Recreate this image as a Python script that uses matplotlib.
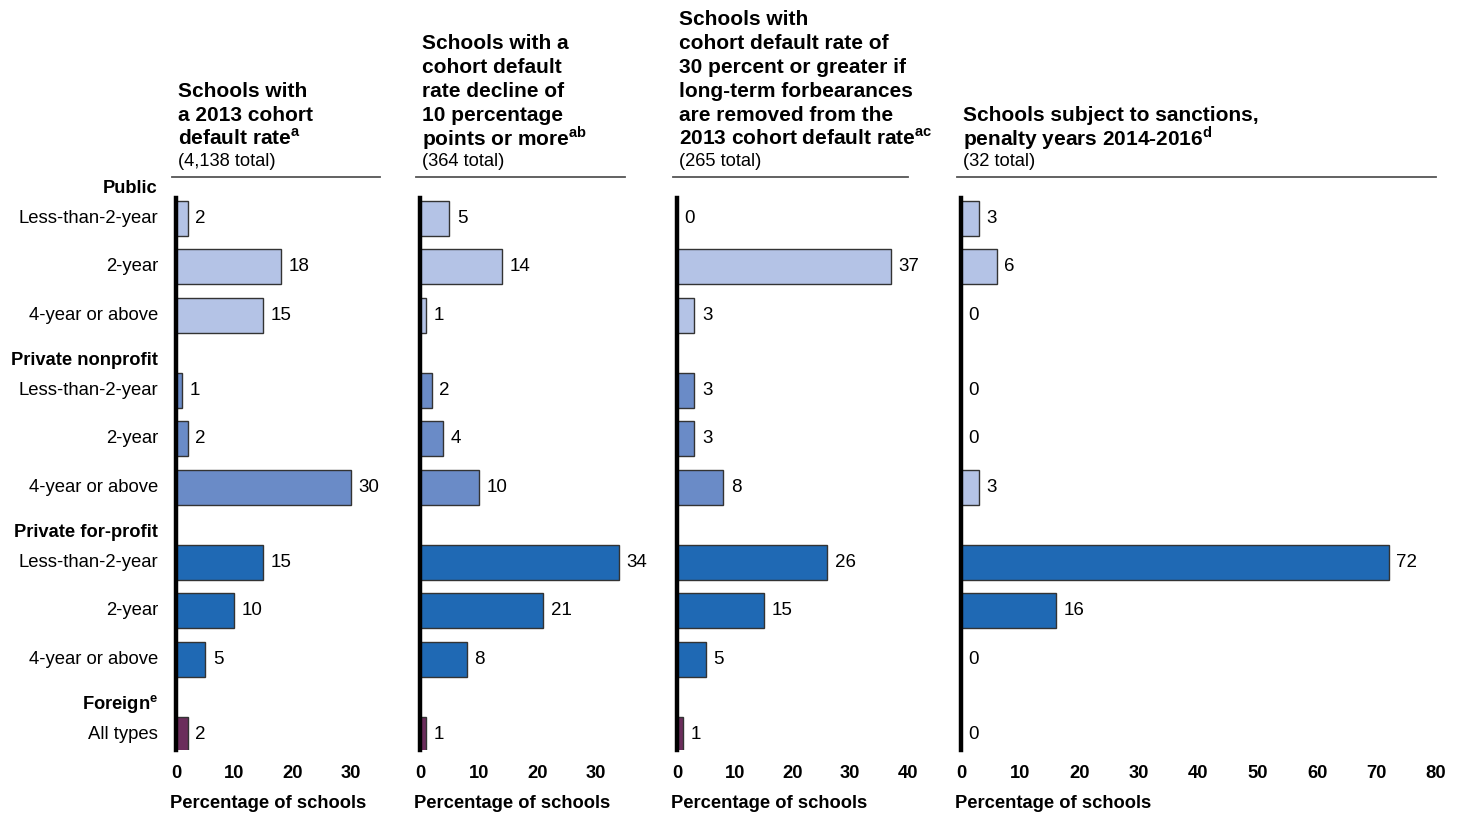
import matplotlib
matplotlib.use('Agg')
import matplotlib.pyplot as plt
from matplotlib.lines import Line2D

plt.rcParams['font.family'] = ['Liberation Sans', 'DejaVu Sans']
plt.rcParams['mathtext.fontset'] = 'custom'
plt.rcParams['mathtext.rm'] = 'Liberation Sans'
plt.rcParams['mathtext.bf'] = 'Liberation Sans:bold'

# data
groups = ['Public', 'Private nonprofit', 'Private for-profit', r'Foreign$^{\mathregular{e}}$']
rows = [['Less-than-2-year', '2-year', '4-year or above'],
        ['Less-than-2-year', '2-year', '4-year or above'],
        ['Less-than-2-year', '2-year', '4-year or above'],
        ['All types']]

cdr_2013 = [2, 18, 15, 1, 2, 30, 15, 10, 5, 2]
cdr_decline = [5, 14, 1, 2, 4, 10, 34, 21, 8, 1]
cdr_no_forb = [0, 37, 3, 3, 3, 8, 26, 15, 5, 1]
sanctions = [3, 6, 0, 0, 0, 3, 72, 16, 0, 0]

titles = [
    ['Schools with', 'a 2013 cohort', r'default rate$^{\mathbf{a}}$'],
    ['Schools with a', 'cohort default', 'rate decline of', '10 percentage',
     r'points or more$^{\mathbf{ab}}$'],
    ['Schools with', 'cohort default rate of', '30 percent or greater if',
     'long-term forbearances', 'are removed from the',
     r'2013 cohort default rate$^{\mathbf{ac}}$'],
    ['Schools subject to sanctions,', r'penalty years 2014-2016$^{\mathbf{d}}$'],
]
totals = ['(4,138 total)', '(364 total)', '(265 total)', '(32 total)']
xmax = [35, 35, 40, 80]
xticks = [[0, 10, 20, 30], [0, 10, 20, 30], [0, 10, 20, 30, 40],
          [0, 10, 20, 30, 40, 50, 60, 70, 80]]

c_public = '#b4c3e6'
c_nonprofit = '#6a8bc7'
c_forprofit = '#1f69b4'
c_foreign = '#6b2d5c'
group_colors = [c_public, c_nonprofit, c_forprofit, c_foreign]

# row positions
pos, colors, header_pos = [], [], []
p = 0
for g, r in enumerate(rows):
    header_pos.append(p - 0.62)
    for _ in r:
        pos.append(p)
        colors.append(group_colors[g])
        p += 1
    p += 0.55

# odd colour in the sanctions panel (as in the source)
colors4 = list(colors)
colors4[5] = c_public

W, H = 1463, 814
fig = plt.figure(figsize=(W / 100, H / 100), dpi=100)

lefts = [176, 420, 677, 961]
rights = [380, 625, 908, 1436]
top_px, bot_px = 198, 750

series = [cdr_2013, cdr_decline, cdr_no_forb, sanctions]

for i in range(4):
    ax = fig.add_axes([lefts[i] / W, 1 - bot_px / H, (rights[i] - lefts[i]) / W,
                       (bot_px - top_px) / H])
    cols = colors4 if i == 3 else colors
    ax.barh(pos, series[i], height=0.72, color=cols, edgecolor='#333333',
            linewidth=1.0, zorder=2)
    for y, v in zip(pos, series[i]):
        ax.annotate(str(v), (v, y), xytext=(5.5, 0), textcoords='offset points',
                    va='center', ha='left', fontsize=13.5)
    ax.set_xlim(0, xmax[i])
    ax.set_ylim(10.97, -0.42)
    ax.set_yticks([])
    ax.set_xticks(xticks[i])
    ax.tick_params(axis='x', length=0, labelsize=13.2, pad=11)
    for lab in ax.get_xticklabels():
        lab.set_fontweight('bold')
    for s in ['top', 'right', 'bottom']:
        ax.spines[s].set_visible(False)
    ax.spines['left'].set_linewidth(3.2)
    ax.spines['left'].set_color('black')
    ax.spines['left'].set_zorder(3)
    ax.annotate('Percentage of schools', (0, 0), xycoords='axes fraction',
                xytext=(-4, -38.5), textcoords='offset points', ha='left',
                va='center', fontsize=13.2, fontweight='bold')

    # title block
    x0 = (lefts[i] + 2) / W
    n = len(titles[i])
    for k, line in enumerate(titles[i]):
        base = 145 - 24 * (n - 1 - k)
        fig.text(x0, 1 - base / H, line, fontsize=15, fontweight='bold',
                 va='baseline', ha='left')
    fig.text(x0, 1 - 166 / H, totals[i], fontsize=13.2, va='baseline', ha='left')
    fig.add_artist(Line2D([(lefts[i] - 4) / W, rights[i] / W],
                          [1 - 177 / H, 1 - 177 / H], color='#555555',
                          linewidth=1.3))

    if i == 0:
        labels = [r for g in rows for r in g]
        for y, lab in zip(pos, labels):
            ax.annotate(lab, (0, y), xycoords=('axes fraction', 'data'),
                        xytext=(-13, 0), textcoords='offset points',
                        ha='right', va='center', fontsize=13.3)
        for y, g in zip(header_pos, groups):
            ax.annotate(g, (0, y), xycoords=('axes fraction', 'data'),
                        xytext=(-13, 0), textcoords='offset points',
                        ha='right', va='center', fontsize=13.2,
                        fontweight='bold', annotation_clip=False)

fig.savefig('out.png', dpi=100)
